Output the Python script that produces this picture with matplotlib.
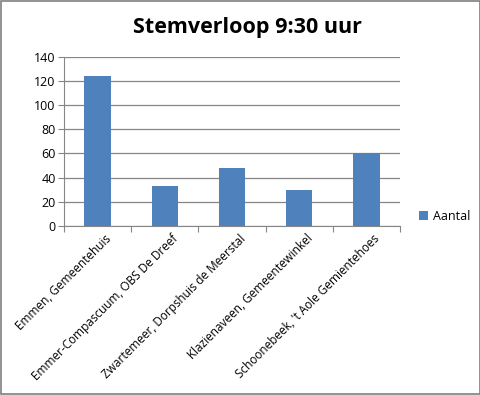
import matplotlib
matplotlib.use('Agg')
import matplotlib.pyplot as plt
from matplotlib.patches import Rectangle
import numpy as np

# Data
locations = ['Emmen, Gemeentehuis', 'Emmer-Compascuum, OBS De Dreef',
             'Zwartemeer, Dorpshuis de Meerstal', 'Klazienaveen, Gemeentewinkel',
             "Schoonebeek, 't Aole Gemientehoes"]
aantal = [124, 33, 48, 30, 60]
yticks = [0, 20, 40, 60, 80, 100, 120, 140]

BAR_COLOR = '#4f81bd'
GRID_COLOR = '#868686'

plt.rcParams['font.family'] = ['Open Sans', 'DejaVu Sans']

fig = plt.figure(figsize=(4.81, 3.95), dpi=100)
ax = fig.add_axes([0.133, 0.428, 0.699, 0.428])

x = np.arange(len(locations))
ax.bar(x, aantal, width=0.39, color=BAR_COLOR, zorder=3, label='Aantal')

ax.set_xlim(-0.5, len(locations) - 0.5)
ax.set_ylim(0, 140)
ax.set_yticks(yticks)
ax.yaxis.grid(True, color=GRID_COLOR, linewidth=0.9, zorder=0)

# category boundary ticks on x
ax.set_xticks(np.arange(-0.5, len(locations), 1.0))
ax.set_xticklabels([])
ax.tick_params(axis='x', length=4, color=GRID_COLOR)
ax.tick_params(axis='y', length=4, color=GRID_COLOR, labelsize=9, pad=2)
for i, name in enumerate(locations):
    ax.text(i + 0.1, -5, name, rotation=45, ha='right', va='top',
            rotation_mode='anchor', fontsize=8.5, transform=ax.transData)

for side in ['top', 'right']:
    ax.spines[side].set_visible(False)
for side in ['left', 'bottom']:
    ax.spines[side].set_color(GRID_COLOR)

fig.text(0.515, 0.93, 'Stemverloop 9:30 uur', ha='center', va='center',
         fontsize=15.5, fontweight='bold')

# legend
fig.legend(loc='center left', bbox_to_anchor=(0.848, 0.453), frameon=False,
           fontsize=9, handlelength=0.7, handleheight=0.7, handletextpad=0.4)

# chart border
fig.patches.append(Rectangle((0.002, 0.003), 0.995, 0.994, transform=fig.transFigure,
                             fill=False, edgecolor='#7f7f7f', linewidth=1.2))

fig.savefig('out.png', dpi=100)
